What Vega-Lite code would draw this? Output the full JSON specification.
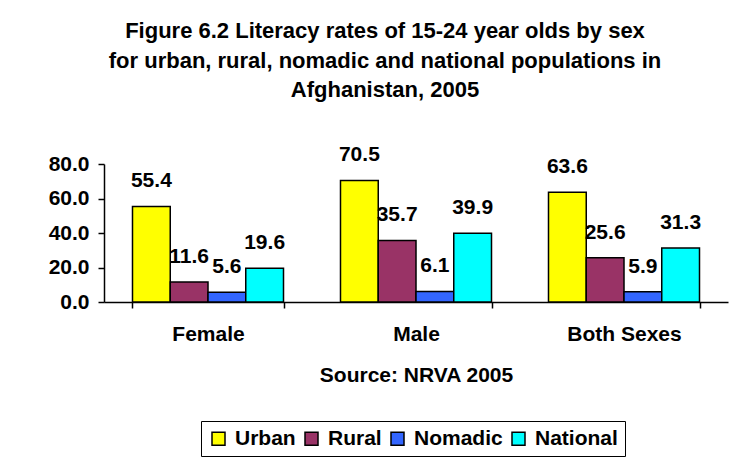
{
  "$schema": "https://vega.github.io/schema/vega-lite/v6.json",
  "width": 624,
  "height": 138,
  "autosize": {"type": "none"},
  "padding": {"left": 104, "top": 164, "right": 7, "bottom": 167},
  "background": "white",
  "title": {
    "text": ["Figure 6.2 Literacy rates of 15-24 year olds by sex", "for urban, rural, nomadic and national populations in", "Afghanistan, 2005"],
    "font": "Liberation Sans",
    "fontSize": 22,
    "fontWeight": "bold",
    "color": "black",
    "lineHeight": 29.5,
    "anchor": "middle",
    "frame": "group",
    "dx": -31,
    "offset": 42
  },
  "data": {
    "values": [
      {"sex": "Female", "pop": "Urban", "rate": 55.4},
      {"sex": "Female", "pop": "Rural", "rate": 11.6},
      {"sex": "Female", "pop": "Nomadic", "rate": 5.6},
      {"sex": "Female", "pop": "National", "rate": 19.6},
      {"sex": "Male", "pop": "Urban", "rate": 70.5},
      {"sex": "Male", "pop": "Rural", "rate": 35.7},
      {"sex": "Male", "pop": "Nomadic", "rate": 6.1},
      {"sex": "Male", "pop": "National", "rate": 39.9},
      {"sex": "Both Sexes", "pop": "Urban", "rate": 63.6},
      {"sex": "Both Sexes", "pop": "Rural", "rate": 25.6},
      {"sex": "Both Sexes", "pop": "Nomadic", "rate": 5.9},
      {"sex": "Both Sexes", "pop": "National", "rate": 31.3}
    ]
  },
  "encoding": {
    "x": {
      "field": "sex",
      "type": "nominal",
      "sort": ["Female", "Male", "Both Sexes"],
      "scale": {"paddingInner": 0.274, "paddingOuter": 0.137},
      "axis": {
        "title": "Source: NRVA 2005",
        "labelAngle": 0,
        "tickBand": "extent",
        "tickSize": 6,
        "tickColor": "black",
        "tickWidth": 1.5,
        "domainColor": "black",
        "domainWidth": 1.5,
        "labelFont": "Liberation Sans",
        "labelFontSize": 21,
        "labelFontWeight": "bold",
        "labelColor": "black",
        "labelPadding": 15,
        "titleFont": "Liberation Sans",
        "titleFontSize": 21,
        "titleFontWeight": "bold",
        "titleColor": "black",
        "titlePadding": 20
      }
    },
    "xOffset": {
      "field": "pop",
      "type": "nominal",
      "sort": ["Urban", "Rural", "Nomadic", "National"],
      "scale": {"paddingInner": 0, "paddingOuter": 0}
    },
    "y": {
      "field": "rate",
      "type": "quantitative",
      "scale": {"domain": [0, 80], "nice": false},
      "axis": {
        "title": null,
        "values": [0, 20, 40, 60, 80],
        "format": ".1f",
        "grid": false,
        "tickSize": 6,
        "tickColor": "black",
        "tickWidth": 1.5,
        "domainColor": "black",
        "domainWidth": 1.5,
        "labelFont": "Liberation Sans",
        "labelFontSize": 21,
        "labelFontWeight": "bold",
        "labelColor": "black",
        "labelPadding": 9
      }
    }
  },
  "layer": [
    {
      "mark": {"type": "bar", "stroke": "black", "strokeWidth": 1.5},
      "encoding": {
        "color": {
          "field": "pop",
          "type": "nominal",
          "sort": ["Urban", "Rural", "Nomadic", "National"],
          "scale": {"domain": ["Urban", "Rural", "Nomadic", "National"], "range": ["#FFFF00", "#993366", "#3366FF", "#00FFFF"]},
          "legend": {
            "title": null,
            "orient": "none",
            "direction": "horizontal",
            "legendX": 97,
            "legendY": 257,
            "symbolType": "square",
            "symbolSize": 169,
            "symbolStrokeColor": "black",
            "symbolStrokeWidth": 1.5,
            "symbolOpacity": 1,
            "labelFont": "Liberation Sans",
            "labelFontSize": 21,
            "labelFontWeight": "bold",
            "labelColor": "black",
            "labelOffset": 6,
            "columnPadding": 5,
            "padding": 7,
            "strokeColor": "black"
          }
        }
      }
    },
    {
      "mark": {"type": "text", "dy": -19, "baseline": "alphabetic", "font": "Liberation Sans", "fontSize": 21, "fontWeight": "bold", "color": "black"},
      "encoding": {
        "text": {"field": "rate", "type": "quantitative", "format": ".1f"}
      }
    }
  ],
  "config": {"view": {"stroke": null}}
}
